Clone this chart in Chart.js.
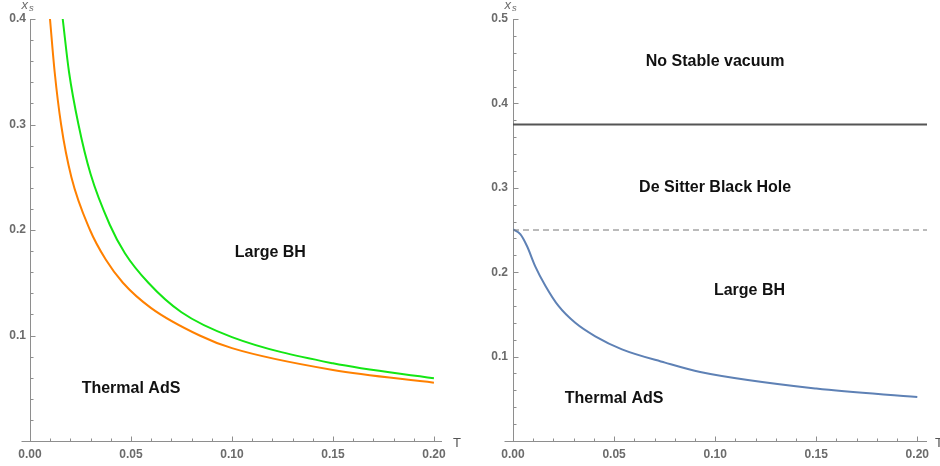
<!DOCTYPE html>
<html>
<head>
<meta charset="utf-8">
<script src="https://cdn.jsdelivr.net/npm/chart.js@4"></script>
<style>
  html, body { margin: 0; padding: 0; background: #fff; }
  #wrap { position: relative; width: 940px; height: 466px; }
  .panel { position: absolute; top: 0; height: 466px; width: 470px; }
  #leftPanel { left: 0; }
  #rightPanel { left: 470px; }
</style>
</head>
<body>
<div id="wrap">
  <div class="panel" id="leftPanel"><canvas id="leftChart"></canvas></div>
  <div class="panel" id="rightPanel"><canvas id="rightChart"></canvas></div>
</div>
<script>
// --- Data ---
// Left panel: two transition curves x_s(T)
const orangeT = [0.0099, 0.0122, 0.0154, 0.0205, 0.0297, 0.0375, 0.046, 0.060, 0.084, 0.100, 0.150, 0.200];
const orangeX = [0.400, 0.350, 0.300, 0.250, 0.200, 0.172, 0.150, 0.126, 0.100, 0.088, 0.0673, 0.0553];
const greenT = [0.0162, 0.0193, 0.0240, 0.0300, 0.0395, 0.0470, 0.0586, 0.0750, 0.100, 0.150, 0.200];
const greenX = [0.400, 0.350, 0.300, 0.253, 0.205, 0.178, 0.150, 0.122, 0.0985, 0.0736, 0.0594];

// Right panel: Hawking-Page curve and the two horizontal boundaries
const blueT = [0.000, 0.0036, 0.0069, 0.0110, 0.0160, 0.0225, 0.0308, 0.0407, 0.0539, 0.0752, 0.0926, 0.150, 0.200];
const blueX = [0.2507, 0.245, 0.231, 0.207, 0.184, 0.160, 0.140, 0.124, 0.1086, 0.0929, 0.0818, 0.0621, 0.0522];
const stableLimit = 0.375;   // solid line
const deSitterLimit = 0.25;  // dashed line

// Tick labels
const xTicks = [0, 0.05, 0.10, 0.15, 0.20];
const leftYTicks = [0.1, 0.2, 0.3, 0.4];
const rightYTicks = [0.1, 0.2, 0.3, 0.4, 0.5];

// Region labels [text, T, x_s]
const leftLabels = [['Large BH', 0.119, 0.179], ['Thermal AdS', 0.05, 0.05]];
const rightLabels = [
    ['No Stable vacuum', 0.1, 0.45],
    ['De Sitter Black Hole', 0.1, 0.3],
    ['Large BH', 0.117, 0.178],
    ['Thermal AdS', 0.05, 0.05]
];

const AXIS_GRAY = '#8e8e8e';
const LABEL_GRAY = '#6b6b6b';

function toPoints(xs, ys) {
    return xs.map((v, i) => ({ x: v, y: ys[i] }));
}

// Mathematica-style axes: crossing at the origin, ticks pointing inward, plus region labels
const mmaAxes = {
    id: 'mmaAxes',
    beforeDatasetsDraw(chart, args, opts) {
        const { ctx, scales: { x, y } } = chart;
        const x0 = Math.round(x.getPixelForValue(0)) + 0.5;
        const y0 = Math.round(y.getPixelForValue(0)) + 0.5;
        ctx.save();
        ctx.strokeStyle = AXIS_GRAY;
        ctx.lineWidth = 1;
        ctx.beginPath();
        ctx.moveTo(x0 - 9, y0);
        ctx.lineTo(x.right, y0);
        ctx.moveTo(x0, y0);
        ctx.lineTo(x0, y.top);
        // x ticks every 0.01, major every 0.05
        for (let i = 0; i * 0.01 <= x.max + 1e-9; i++) {
            const px = Math.round(x.getPixelForValue(i * 0.01)) + 0.5;
            const len = i % 5 === 0 ? 5 : 3;
            ctx.moveTo(px, y0);
            ctx.lineTo(px, y0 - len);
        }
        // y ticks every 0.02, major every 0.1
        for (let i = 1; i * 0.02 <= y.max + 1e-9; i++) {
            const py = Math.round(y.getPixelForValue(i * 0.02)) + 0.5;
            const len = i % 5 === 0 ? 5 : 3;
            ctx.moveTo(x0, py);
            ctx.lineTo(x0 + len, py);
        }
        ctx.stroke();

        // axis titles
        ctx.fillStyle = LABEL_GRAY;
        ctx.textBaseline = 'alphabetic';
        ctx.textAlign = 'left';
        ctx.font = 'italic 13px "Liberation Sans", Arial, sans-serif';
        ctx.fillText('x', x0 - 9, 9);
        ctx.font = 'italic 9.5px "Liberation Sans", Arial, sans-serif';
        ctx.fillText('s', x0 - 1.5, 10.5);
        ctx.font = '13px "Liberation Sans", Arial, sans-serif';
        ctx.fillStyle = '#555';
        ctx.fillText('T', x.right + (opts.tGap || 10), y0 + 5);
        ctx.restore();
    },
    afterDatasetsDraw(chart, args, opts) {
        const { ctx, scales: { x, y } } = chart;
        ctx.save();
        ctx.fillStyle = '#111';
        ctx.font = 'bold 16px "Liberation Sans", Arial, sans-serif';
        ctx.textAlign = 'center';
        ctx.textBaseline = 'middle';
        (opts.labels || []).forEach(([txt, tv, xv]) => {
            ctx.fillText(txt, x.getPixelForValue(tv), y.getPixelForValue(xv));
        });
        ctx.restore();
    }
};

function makeScales(xMax, yMax, yTickVals, yWidth, yPad) {
    const tickFont = { family: '"Liberation Sans", Arial, sans-serif', size: 12, weight: 'bold' };
    return {
        x: {
            type: 'linear',
            min: 0,
            max: xMax,
            grid: { display: false, drawTicks: false },
            border: { display: false },
            afterBuildTicks: s => { s.ticks = xTicks.map(v => ({ value: v })); },
            afterFit: s => { s.height = 25; },
            ticks: {
                color: LABEL_GRAY,
                font: tickFont,
                padding: 6,
                maxRotation: 0,
                callback: v => v.toFixed(2)
            }
        },
        y: {
            type: 'linear',
            min: 0,
            max: yMax,
            grid: { display: false, drawTicks: false },
            border: { display: false },
            afterBuildTicks: s => { s.ticks = yTickVals.map(v => ({ value: v })); },
            afterFit: s => { s.width = yWidth; },
            ticks: {
                color: LABEL_GRAY,
                font: tickFont,
                padding: yPad,
                callback: v => v.toFixed(1)
            }
        }
    };
}

function lineSet(data, color, width, dash) {
    return {
        data: data,
        showLine: true,
        borderColor: color,
        borderWidth: width,
        borderDash: dash || [],
        pointRadius: 0,
        fill: false,
        cubicInterpolationMode: 'monotone'
    };
}

const baseOptions = {
    responsive: true,
    maintainAspectRatio: false,
    animation: false,
    events: [],
    plugins: { legend: { display: false }, tooltip: { enabled: false } }
};

new Chart(document.getElementById('leftChart'), {
    type: 'scatter',
    data: {
        datasets: [
            lineSet(toPoints(greenT, greenX), '#14e614', 2),
            lineSet(toPoints(orangeT, orangeX), '#ff8000', 2)
        ]
    },
    options: {
        ...baseOptions,
        layout: { padding: { top: 19, right: 28, left: 0, bottom: 0 } },
        scales: makeScales(0.204, 0.4, leftYTicks, 30, 4),
        plugins: { ...baseOptions.plugins, mmaAxes: { labels: leftLabels, tGap: 11 } }
    },
    plugins: [mmaAxes]
});

new Chart(document.getElementById('rightChart'), {
    type: 'scatter',
    data: {
        datasets: [
            lineSet([{ x: 0, y: stableLimit }, { x: 0.2048, y: stableLimit }], '#555555', 2),
            lineSet([{ x: 0, y: deSitterLimit }, { x: 0.2048, y: deSitterLimit }], '#777777', 1, [6, 4]),
            lineSet(toPoints(blueT, blueX), '#5e81b5', 2)
        ]
    },
    options: {
        ...baseOptions,
        layout: { padding: { top: 19, right: 13, left: 0, bottom: 0 } },
        scales: makeScales(0.2048, 0.5, rightYTicks, 43, 5),
        plugins: { ...baseOptions.plugins, mmaAxes: { labels: rightLabels, tGap: 8 } }
    },
    plugins: [mmaAxes]
});
</script>
</body>
</html>
